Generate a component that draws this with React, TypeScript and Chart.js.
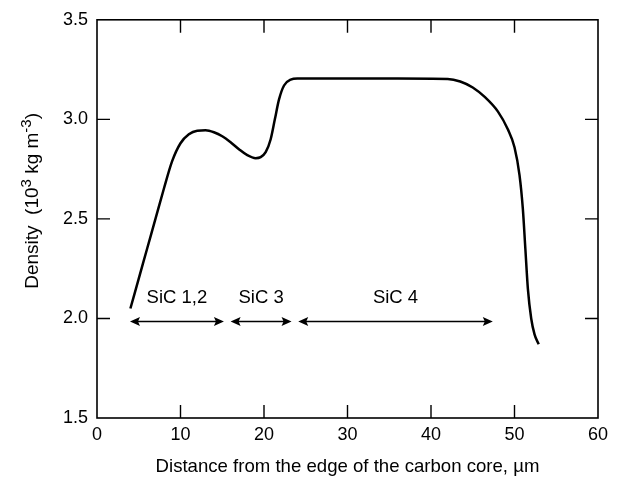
import React, { useEffect, useRef } from "react";
import { Chart, registerables } from "chart.js";

Chart.register(...registerables);

const distance = [4, 5, 6, 7, 8, 9, 10, 11, 12, 13, 14, 15, 16, 17, 18, 19, 19.6, 20.2, 20.8, 21.3, 21.8, 22.4, 23.2, 24, 30, 36, 42, 43.5, 45, 46.5, 48, 49.2, 50, 50.6, 51, 51.3, 51.6, 52, 52.4, 52.9];
const density = [2.05, 2.2, 2.35, 2.5, 2.65, 2.79, 2.88, 2.925, 2.943, 2.945, 2.935, 2.915, 2.885, 2.85, 2.82, 2.805, 2.81, 2.835, 2.9, 3.0, 3.1, 3.17, 3.2, 3.205, 3.205, 3.205, 3.203, 3.19, 3.16, 3.11, 3.04, 2.95, 2.86, 2.72, 2.55, 2.35, 2.15, 2.0, 1.92, 1.87];

const regionLabels = ["SiC 1,2", "SiC 3", "SiC 4"];
const regionStart = [3.95, 16.0, 24.1];
const regionEnd = [15.2, 23.3, 47.4];
const regionLevel = 1.985;

const xTicks = [0, 10, 20, 30, 40, 50, 60];
const yTicks = [1.5, 2.0, 2.5, 3.0, 3.5];

const xTitle = "Distance from the edge of the carbon core, µm";
// y title pieces: [text, isSuperscript]
const yTitleParts: [string, boolean][] = [
  ["Density  (10", false],
  ["3", true],
  [" kg m", false],
  ["-3", true],
  [")", false],
];

const FONT = "'Liberation Sans', Arial, sans-serif";

const framePlugin = {
  id: "frame",
  afterDraw(chart: any) {
    const { ctx, chartArea, scales } = chart;
    const { left, right, top, bottom } = chartArea;
    const xs = scales.x;
    const ys = scales.y;
    ctx.save();
    ctx.strokeStyle = "#000";
    ctx.lineWidth = 1.6;
    ctx.strokeRect(left, top, right - left, bottom - top);
    const tl = 13;
    ctx.lineWidth = 1.4;
    ctx.beginPath();
    xTicks.forEach((v) => {
      if (v === xTicks[0] || v === xTicks[xTicks.length - 1]) return;
      const px = xs.getPixelForValue(v);
      ctx.moveTo(px, bottom);
      ctx.lineTo(px, bottom - tl);
      ctx.moveTo(px, top);
      ctx.lineTo(px, top + tl);
    });
    yTicks.forEach((v) => {
      if (v === yTicks[0] || v === yTicks[yTicks.length - 1]) return;
      const py = ys.getPixelForValue(v);
      ctx.moveTo(left, py);
      ctx.lineTo(left + tl, py);
      ctx.moveTo(right, py);
      ctx.lineTo(right - tl, py);
    });
    ctx.stroke();

    // region arrows
    const py = ys.getPixelForValue(regionLevel);
    ctx.lineWidth = 1.6;
    ctx.fillStyle = "#000";
    ctx.font = "18.5px " + FONT;
    ctx.textAlign = "center";
    ctx.textBaseline = "middle";
    regionLabels.forEach((lab, i) => {
      const x1 = xs.getPixelForValue(regionStart[i]);
      const x2 = xs.getPixelForValue(regionEnd[i]);
      ctx.beginPath();
      ctx.moveTo(x1 + 4, py);
      ctx.lineTo(x2 - 4, py);
      ctx.stroke();
      const ah = 10, aw = 4.5;
      ctx.beginPath();
      ctx.moveTo(x1, py);
      ctx.lineTo(x1 + ah, py - aw);
      ctx.lineTo(x1 + ah - 2, py);
      ctx.lineTo(x1 + ah, py + aw);
      ctx.closePath();
      ctx.fill();
      ctx.beginPath();
      ctx.moveTo(x2, py);
      ctx.lineTo(x2 - ah, py - aw);
      ctx.lineTo(x2 - ah + 2, py);
      ctx.lineTo(x2 - ah, py + aw);
      ctx.closePath();
      ctx.fill();
      ctx.fillText(lab, (x1 + x2) / 2, py - 24);
    });

    // y-axis title with real superscripts
    const mainFont = "19px " + FONT;
    const supFont = "15px " + FONT;
    let total = 0;
    yTitleParts.forEach(([t, sup]) => {
      ctx.font = sup ? supFont : mainFont;
      total += ctx.measureText(t).width;
    });
    ctx.translate(31, (top + bottom) / 2 - 18);
    ctx.rotate(-Math.PI / 2);
    ctx.textAlign = "left";
    ctx.textBaseline = "alphabetic";
    let cx = -total / 2;
    yTitleParts.forEach(([t, sup]) => {
      ctx.font = sup ? supFont : mainFont;
      ctx.fillText(t, cx, sup ? 0 : 7);
      cx += ctx.measureText(t).width;
    });
    ctx.restore();
  },
};

export default function App() {
  const ref = useRef<HTMLCanvasElement>(null);
  useEffect(() => {
    if (!ref.current) return;
    const chart = new Chart(ref.current, {
      type: "scatter",
      data: {
        datasets: [
          {
            data: distance.map((x, i) => ({ x, y: density[i] })),
            showLine: true,
            borderColor: "#000",
            borderWidth: 2.5,
            pointRadius: 0,
            cubicInterpolationMode: "monotone",
            fill: false,
          },
        ],
      },
      options: {
        responsive: false,
        animation: false,
        layout: { padding: { top: 18, right: 43, left: 0, bottom: 0 } },
        plugins: { legend: { display: false }, tooltip: { enabled: false } },
        scales: {
          x: {
            type: "linear",
            min: 0,
            max: 60,
            afterBuildTicks: (s: any) => {
              s.ticks = xTicks.map((v) => ({ value: v }));
            },
            afterFit: (s: any) => {
              s.height = 62;
            },
            grid: { display: false, drawTicks: false },
            border: { display: false },
            ticks: {
              color: "#000",
              padding: 6,
              font: { family: FONT, size: 18 },
              maxRotation: 0,
            },
            title: {
              display: true,
              text: xTitle,
              color: "#000",
              font: { family: FONT, size: 18.6 },
              padding: { top: 0, bottom: 2 },
            },
          },
          y: {
            type: "linear",
            min: 1.5,
            max: 3.5,
            afterBuildTicks: (s: any) => {
              s.ticks = yTicks.map((v) => ({ value: v }));
            },
            afterFit: (s: any) => {
              s.width = 97;
            },
            grid: { display: false, drawTicks: false },
            border: { display: false },
            ticks: {
              color: "#000",
              padding: 9,
              font: { family: FONT, size: 18 },
              callback: (v: any) => Number(v).toFixed(1),
            },
            title: { display: false },
          },
        },
      },
      plugins: [framePlugin],
    });
    return () => chart.destroy();
  }, []);
  return (
    <div style={{ position: "fixed", left: 0, top: 0, width: 641, height: 480, background: "#fff" }}>
      <canvas ref={ref} width={641} height={480} />
    </div>
  );
}
